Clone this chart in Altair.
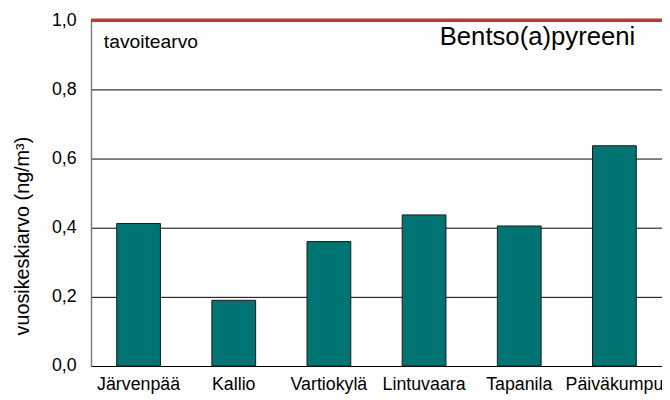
import altair as alt
import pandas as pd

sites = ["Järvenpää", "Kallio", "Vartiokylä", "Lintuvaara", "Tapanila", "Päiväkumpu"]
values = [0.412, 0.19, 0.36, 0.437, 0.405, 0.637]
target_value = 1.0
target_label = "tavoitearvo"
title_text = "Bentso(a)pyreeni"
y_title = "vuosikeskiarvo (ng/m³)"

df = pd.DataFrame({"site": sites, "value": values})
FONT = "Liberation Sans"

x = alt.X("site:N", sort=sites, title=None,
          scale=alt.Scale(paddingInner=0.54, paddingOuter=0.27),
          axis=alt.Axis(labelAngle=0, labelFont=FONT, labelFontSize=18, labelColor="black",
                        labelPadding=10, ticks=False, domainColor="black", domainWidth=1,
                        labelLimit=200, labelOverlap=False))
y = alt.Y("value:Q", title=y_title,
          scale=alt.Scale(domain=[0, 1.0], nice=False),
          axis=alt.Axis(values=[0, 0.2, 0.4, 0.6, 0.8, 1.0],
                        labelExpr="replace(format(datum.value, '.1f'), '.', ',')",
                        labelFont=FONT, labelFontSize=18, labelColor="black", labelPadding=15,
                        ticks=False, domainColor="#808080", domainWidth=1.5,
                        grid=True, gridColor="black", gridWidth=1,
                        titleFont=FONT, titleFontSize=20, titleFontWeight="normal",
                        titleColor="black", titlePadding=19, titleY=218))

bars = alt.Chart(df).mark_bar(color="#007373", stroke="#1a1a1a", strokeWidth=1).encode(x=x, y=y)

rule = alt.Chart(pd.DataFrame({"t": [target_value]})).mark_rule(
    color="#C0392B", strokeWidth=3.5).encode(y="t:Q")

lbl = alt.Chart(pd.DataFrame({"t": [target_label]})).mark_text(
    align="left", baseline="alphabetic", font=FONT, fontSize=19.5, color="black"
).encode(text="t:N", x=alt.value(13), y=alt.value(28))

ttl = alt.Chart(pd.DataFrame({"t": [title_text]})).mark_text(
    align="left", baseline="alphabetic", font=FONT, fontSize=26, color="black"
).encode(text="t:N", x=alt.value(353), y=alt.value(25))

chart = alt.layer(bars, rule, lbl, ttl).properties(
    width=578, height=350,
    autosize=alt.AutoSizeParams(type="none"),
    padding={"left": 84, "top": 10, "right": 0, "bottom": 32},
).configure_view(stroke="black", strokeWidth=1).configure(background="white")

chart.save("out.html", embed_options={"renderer": "svg", "actions": False})
